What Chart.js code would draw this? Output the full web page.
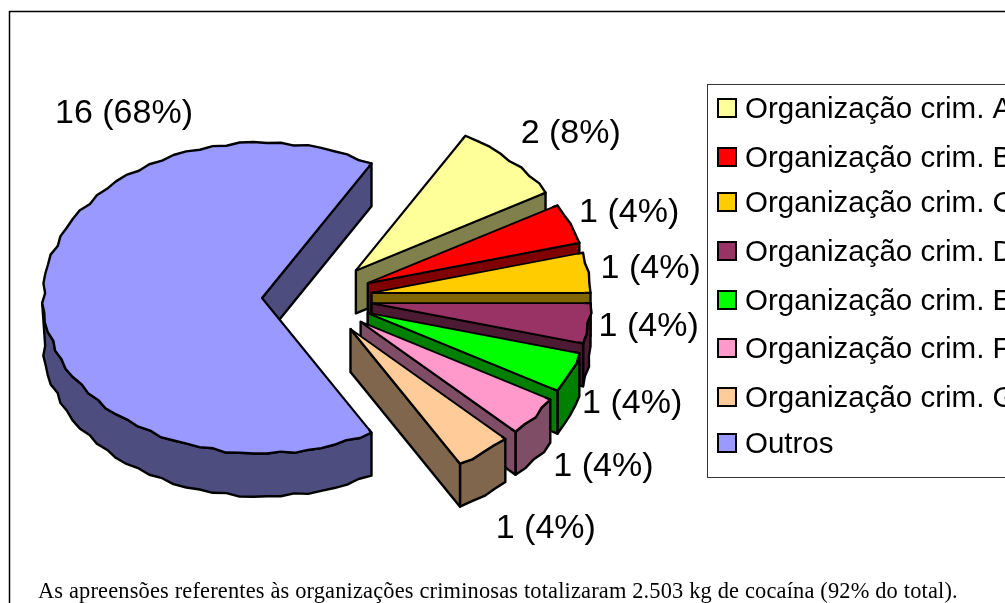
<!DOCTYPE html>
<html lang="pt">
<head>
    <meta charset="UTF-8">
    <title>Apreensões por organização criminosa</title>
    <script src="https://cdn.jsdelivr.net/npm/chart.js"></script>
    <style>
        html, body { margin: 0; padding: 0; background: #fff; overflow: hidden; }
        canvas { display: block; }
    </style>
</head>
<body>
    <canvas id="pizza" width="1005" height="603"></canvas>

    <script>
        const categorias = ['Organização crim. A', 'Organização crim. B', 'Organização crim. C', 'Organização crim. D',
            'Organização crim. E', 'Organização crim. F', 'Organização crim. G', 'Outros'];
        const valores = [2, 1, 1, 1, 1, 1, 1, 16];
        const rotulos = ['2 (8%)', '1 (4%)', '1 (4%)', '1 (4%)', '1 (4%)', '1 (4%)', '1 (4%)', '16 (68%)'];
        const cores = ['#FFFF99', '#FF0000', '#FFCC00', '#993366', '#00FF00', '#FF99CC', '#FFCC99', '#9999FF'];
        const coresLado = ['#80804D', '#800000', '#806600', '#4D1A33', '#008000', '#804D66', '#80664D', '#4D4D80'];

        // deslocamento de cada rótulo a partir da borda da fatia
        const rotuloDx = [60, 59, 62, 60, 62, 69, 62, 81];
        const rotuloDy = [-27, -11, -4, 3, 31, 50, 76, -184];
        const legendaY = [108, 157, 202, 251, 300, 348, 397, 443];

        const ACHATAR = 0.71;   // perspectiva do "3D"
        const ALTURA = 43;      // altura da parede
        const DESLOCA = 55;     // quanto cada fatia sai do centro
        const RAIO = 217;       // raio desenhado de cada fatia

        // borda irregular do original
        function onda(a) {
            return 1.3 * Math.sin(a * 41) + 0.8 * Math.sin(a * 19 + 1);
        }

        function pontoTopo(arc, ang, r) {
            const meio = (arc.startAngle + arc.endAngle) / 2;
            const x = arc.x + Math.cos(meio) * DESLOCA + Math.cos(ang) * r;
            const y = arc.y + Math.sin(meio) * DESLOCA + Math.sin(ang) * r;
            return [x, arc.y + (y - arc.y) * ACHATAR];
        }

        // pontos da borda externa, em passos curtos
        function borda(arc, fase) {
            const r = arc.outerRadius + 2;
            const pts = [];
            const passos = Math.max(4, Math.round((arc.endAngle - arc.startAngle) * 16));
            for (let k = 0; k <= passos; k++) {
                const a = arc.startAngle + (arc.endAngle - arc.startAngle) * k / passos;
                const w = (k === 0 || k === passos) ? 0 : onda(a + fase);
                pts.push({ a, p: pontoTopo(arc, a, r + w) });
            }
            return pts;
        }

        function caminho(ctx, pts) {
            ctx.beginPath();
            pts.forEach((p, i) => i ? ctx.lineTo(p[0], p[1]) : ctx.moveTo(p[0], p[1]));
        }

        function desenhaParede(ctx, pts, cor) {
            caminho(ctx, pts);
            ctx.closePath();
            ctx.fillStyle = cor;
            ctx.fill();
            ctx.stroke();
        }

        const pizza3d = {
            id: 'pizza3d',
            beforeDatasetsDraw(chart) {
                const ctx = chart.ctx;
                const arcs = chart.getDatasetMeta(0).data;
                ctx.save();
                ctx.strokeStyle = '#000';
                ctx.lineWidth = 2.4;
                ctx.lineJoin = 'round';

                // paredes, de trás para a frente
                arcs.forEach((arc, i) => {
                    const topo = borda(arc, 0).filter(b => Math.sin(b.a) >= 0);
                    if (topo.length > 1) {
                        const baixo = borda(arc, 0.07).filter(b => Math.sin(b.a) >= 0).reverse();
                        desenhaParede(ctx, topo.map(b => b.p).concat(baixo.map(b => [b.p[0], b.p[1] + ALTURA])), coresLado[i]);
                    }
                    const c = pontoTopo(arc, arc.endAngle, 0);
                    const e = pontoTopo(arc, arc.endAngle, arc.outerRadius + 2);
                    desenhaParede(ctx, [c, e, [e[0], e[1] + ALTURA], [c[0], c[1] + ALTURA]], coresLado[i]);
                });

                // tampo: os próprios arcos, achatados e deslocados do centro
                arcs.forEach(arc => {
                    const meio = (arc.startAngle + arc.endAngle) / 2;
                    ctx.save();
                    ctx.translate(0, arc.y);
                    ctx.scale(1, ACHATAR);
                    ctx.translate(Math.cos(meio) * DESLOCA, Math.sin(meio) * DESLOCA - arc.y);
                    arc.draw(ctx);
                    ctx.restore();
                });

                // acabamento da borda das fatias
                arcs.forEach((arc, i) => {
                    const fora = borda(arc, 0);
                    const dentro = fora.slice().reverse().map(b => pontoTopo(arc, b.a, arc.outerRadius - 4));
                    caminho(ctx, fora.map(b => b.p).concat(dentro));
                    ctx.closePath();
                    ctx.fillStyle = cores[i];
                    ctx.fill();
                    caminho(ctx, [dentro[dentro.length - 1]].concat(fora.map(b => b.p), [dentro[0]]));
                    ctx.stroke();
                });
                ctx.restore();
                return false;
            },
            afterDraw(chart) {
                const ctx = chart.ctx;
                const arcs = chart.getDatasetMeta(0).data;
                ctx.save();

                // moldura externa
                ctx.strokeStyle = '#000';
                ctx.lineWidth = 1.5;
                ctx.strokeRect(9.5, 11.5, 1100, 700);

                ctx.fillStyle = '#000';
                ctx.textBaseline = 'middle';

                // rótulos de dados
                ctx.font = '34px "Liberation Sans"';
                ctx.textAlign = 'center';
                arcs.forEach((arc, i) => {
                    const meio = (arc.startAngle + arc.endAngle) / 2;
                    const p = pontoTopo(arc, meio, arc.outerRadius + 2);
                    ctx.fillText(rotulos[i], p[0] + rotuloDx[i], p[1] + rotuloDy[i]);
                });

                // legenda
                ctx.strokeStyle = '#333';
                ctx.lineWidth = 1;
                ctx.strokeRect(707.5, 84.5, 400, 393);
                ctx.font = '29.5px "Liberation Sans"';
                ctx.textAlign = 'left';
                categorias.forEach((nome, i) => {
                    ctx.fillStyle = cores[i];
                    ctx.strokeStyle = '#000';
                    ctx.lineWidth = 2;
                    ctx.fillRect(718, legendaY[i] - 9, 18, 18);
                    ctx.strokeRect(718, legendaY[i] - 9, 18, 18);
                    ctx.fillStyle = '#000';
                    ctx.fillText(nome, 745, legendaY[i] + 1.5);
                });

                // legenda da figura
                ctx.font = '22.4px "Liberation Serif"';
                ctx.letterSpacing = '0.17px';
                ctx.fillText('As apreensões referentes às organizações criminosas totalizaram 2.503 kg de cocaína (92% do total).', 38, 592);
                ctx.restore();
            }
        };

        new Chart(document.getElementById('pizza'), {
            type: 'pie',
            data: {
                labels: categorias,
                datasets: [{
                    data: valores,
                    backgroundColor: cores,
                    borderColor: '#000',
                    borderWidth: 2.4,
                    hoverOffset: 0
                }]
            },
            options: {
                responsive: false,
                animation: false,
                rotation: 30,
                radius: RAIO,
                events: [],
                layout: { padding: { right: 371, bottom: 7 } },
                plugins: { legend: { display: false }, tooltip: { enabled: false } }
            },
            plugins: [pizza3d]
        });
    </script>
</body>
</html>
